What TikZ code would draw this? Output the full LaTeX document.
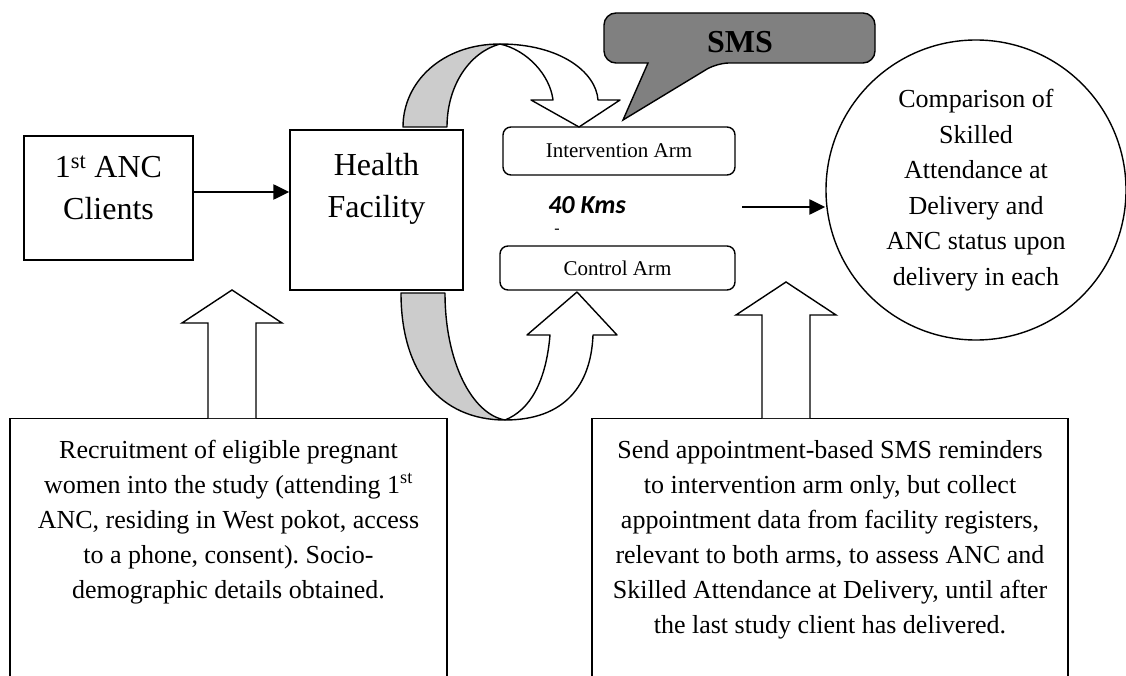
\documentclass[tikz,border=0pt]{standalone}
\usepackage{fontspec}
\setmainfont{Liberation Serif}
\newfontfamily\calibrifont{Carlito}
\usetikzlibrary{arrows.meta}
\definecolor{smsgray}{RGB}{128,128,128}
\definecolor{bandgray}{RGB}{204,204,204}
\frenchspacing

\begin{document}
\begin{tikzpicture}[y=-1pt,x=1pt,line width=1.4pt,
	box/.style={draw,rectangle,inner sep=0pt},
	armbox/.style={draw,rectangle,rounded corners=8pt,inner sep=0pt,font=\fontsize{21}{25}\selectfont},
	bigtext/.style={inner sep=0pt,align=center,font=\fontsize{32}{42}\selectfont},
	bodytext/.style={inner sep=0pt,align=center,font=\fontsize{26}{35}\selectfont},
	arr/.style={line width=2.4pt,-{Triangle[length=16pt,width=15pt]}},
	backband/.style={draw,fill=bandgray,line join=round},
	frontband/.style={draw,fill=white,line join=round},
	block/.style={draw,fill=white}]
	\newcommand\BlockUp[1]{+(-24,0) -- +(-24,-#1+33) -- +(-50,-#1+33) -- +(0,-#1) -- +(50,-#1+33) -- +(24,-#1+33) -- +(24,0)}

	\useasboundingbox (0,0) rectangle (1126,676);
	\clip (0,0) rectangle (1126,676);

	% top row
	\node[box,minimum width=169,minimum height=124] (anc) at (108.5,198) {};
	\node[bigtext,anchor=north] (anctxt) at (anc.north |- 0,155) {1\textsuperscript{st} ANC\\Clients};
	\node[box,minimum width=173,minimum height=160] (hf) at (376.5,210) {};
	\node[bigtext,anchor=north] (hftxt) at (hf.north |- 0,153) {Health\\Facility};

	\node[armbox,minimum width=232,minimum height=48] (intv) at (619,151) {Intervention Arm};
	\node[armbox,minimum width=235,minimum height=44] (ctrl) at (617.5,268) {Control Arm};
	\node[inner sep=0pt,font=\calibrifont\fontsize{26}{30}\selectfont\bfseries\itshape] (kms) at (587,205) {40 Kms};
	\node[inner sep=0pt,font=\fontsize{16}{18}\selectfont] (dash) at (557,231) {-};

	\node[circle,draw,minimum size=300,inner sep=0pt,align=center,font=\fontsize{26}{35.5}\selectfont] (cmp) at (976,190)
		{Comparison of\\Skilled\\Attendance at\\Delivery and\\ANC status upon\\delivery in each};

	\draw[arr] ([yshift=6pt]anc.east) coordinate (a1) -- (a1 -| hf.west);
	\coordinate (kmsend) at (742,207);
	\draw[arr] (kmsend) -- (kmsend -| cmp.west);

	% curved arrows
	\draw[backband] (403,127) .. controls (403,82) and (442,44) .. (500,44) .. controls (470,52) and (447,85) .. (447,127) -- cycle;
	\draw[frontband] (500,44) .. controls (560,44) and (596,72) .. (598,100) -- (620,100) -- (579,127) -- (531,100) -- (553,100) .. controls (550,75) and (527,50) .. (500,44) -- cycle;
	\draw[backband] (401,293) .. controls (401,372) and (440,420) .. (505,420) .. controls (472,414) and (445,362) .. (445,293) -- cycle;
	\draw[frontband] (505,420) .. controls (565,420) and (591,385) .. (593,335) -- (617,335) -- (577,292) -- (527,335) -- (550,335) .. controls (546,382) and (530,410) .. (505,420) -- cycle;

	% sms callout
	\draw[fill=smsgray] (740,13) [rounded corners=12pt] -- (875,13) -- (875,63) -- (717,63) [sharp corners] -- (623,120) -- (648,63) [rounded corners=12pt] -- (604,63) -- (604,13) -- cycle;
	\node[inner sep=0pt,font=\fontsize{32}{38}\selectfont\bfseries] (sms) at (740,42) {SMS};

	% bottom row
	\node[box,minimum width=437,minimum height=300,anchor=north] (recruit) at (228.5,418) {};
	\node[bodytext,anchor=north] (recruittxt) at (recruit.north |- 0,439) {Recruitment of eligible pregnant\\women into the study (attending 1\textsuperscript{st}\\ANC, residing in West pokot, access\\to a phone, consent). Socio-\\demographic details obtained.};
	\node[box,minimum width=476,minimum height=300,anchor=north] (sendsms) at (830,418) {};
	\node[bodytext,anchor=north] (sendsmstxt) at (sendsms.north |- 0,440) {Send appointment-based SMS reminders\\to intervention arm only, but collect\\appointment data from facility registers,\\relevant to both arms, to assess ANC and\\Skilled Attendance at Delivery, until after\\the last study client has delivered.};

	\draw[block] ([xshift=3.5pt]recruit.north) \BlockUp{128};
	\draw[block] ([xshift=-44pt]sendsms.north) \BlockUp{136};
\end{tikzpicture}
\end{document}
